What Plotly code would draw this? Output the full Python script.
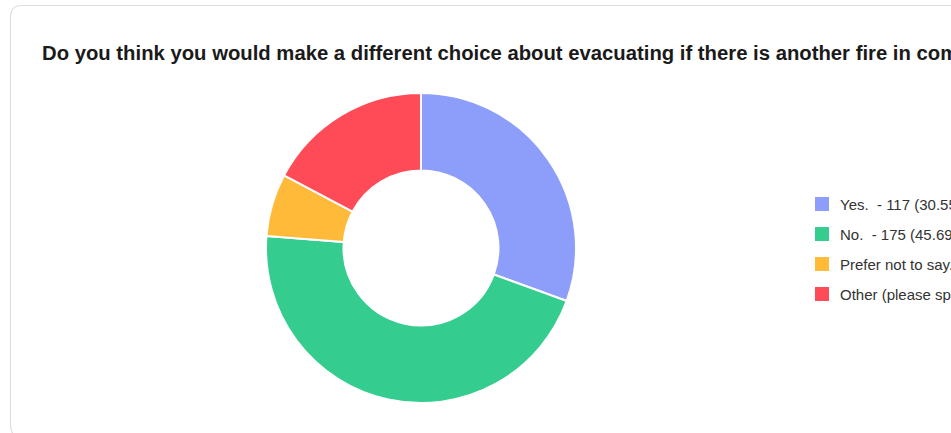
import plotly.graph_objects as go

labels = ["Yes.", "No.", "Prefer not to say.", "Other (please specify)"]
counts = [117, 175, 25, 66]
colors = ["#8C9DFA", "#34CC8F", "#FFBA3A", "#FF4B57"]
title_text = "Do you think you would make a different choice about evacuating if there is another fire in community?"

W, H = 1400, 433
total = sum(counts)

def px_x(v):
    return v / W

def px_y(v):
    return 1 - v / H

fig = go.Figure()
fig.add_trace(go.Pie(
    labels=labels,
    values=counts,
    marker=dict(colors=colors, line=dict(color="white", width=2)),
    hole=0.5,
    sort=False,
    direction="clockwise",
    rotation=0,
    textinfo="none",
    hoverinfo="label+value+percent",
    showlegend=False,
    domain=dict(x=[px_x(266), px_x(576)], y=[px_y(403), px_y(93)]),
))

shapes = []
annotations = []
# card border
shapes.append(dict(
    type="path", xref="paper", yref="paper",
    path=(f"M {px_x(10.5)} {px_y(17)} L {px_x(10.5)} {px_y(425)} "
          f"Q {px_x(10.5)} {px_y(437)} {px_x(22)} {px_y(437)} L {px_x(1390)} {px_y(437)} "
          f"L {px_x(1390)} {px_y(5.5)} L {px_x(22)} {px_y(5.5)} "
          f"Q {px_x(10.5)} {px_y(5.5)} {px_x(10.5)} {px_y(17)} Z"),
    line=dict(color="#DEDEDE", width=1.2), fillcolor="rgba(0,0,0,0)", layer="below",
))

for i, (lab, c, col) in enumerate(zip(labels, counts, colors)):
    cy = 204 + 30 * i
    shapes.append(dict(type="rect", xref="paper", yref="paper",
                       x0=px_x(815), x1=px_x(829), y0=px_y(cy + 7), y1=px_y(cy - 7),
                       fillcolor=col, line=dict(width=0)))
    pct = 100 * c / total
    annotations.append(dict(
        x=px_x(838), y=px_y(cy), xref="paper", yref="paper", xanchor="left", yanchor="middle",
        text=f"{lab}\u00a0 - {c} ({pct:.2f}%)", showarrow=False,
        font=dict(family="Liberation Sans, Arial, sans-serif", size=15, color="#333333"),
    ))

annotations.append(dict(
    x=px_x(40), y=px_y(53), xref="paper", yref="paper", xanchor="left", yanchor="middle",
    text=f"<b>{title_text}</b>", showarrow=False,
    font=dict(family="Liberation Sans, Arial, sans-serif", size=20.3, color="#1A1A1A"),
))

fig.update_layout(
    width=W, height=H,
    margin=dict(l=0, r=0, t=0, b=0),
    paper_bgcolor="white", plot_bgcolor="white",
    shapes=shapes, annotations=annotations,
)

fig.write_html(
    "out.html",
    post_script="document.documentElement.style.overflow='hidden';document.body.style.overflow='hidden';document.body.style.margin='0';",
)
